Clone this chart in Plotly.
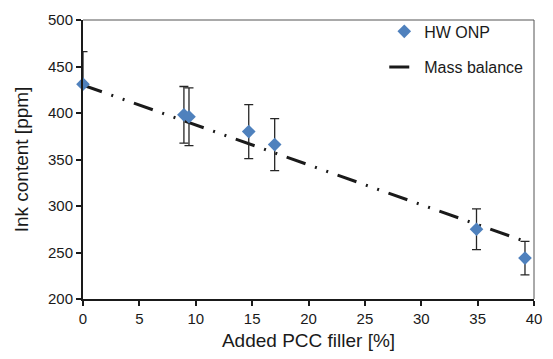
import plotly.graph_objects as go

# Measured data (HW ONP)
filler_pct = [0.0, 8.95, 9.4, 14.7, 17.0, 34.9, 39.2]
ink_ppm = [431, 398, 396, 380, 366, 275, 244]
ink_err_plus = [35, 30.5, 31, 29, 28, 22, 18]
ink_err_minus = [0, 30.5, 31, 29, 28, 22, 18]

# Mass balance line
mb_x = [0.0, 39.2]
mb_y = [430, 262]

x_ticks = [0, 5, 10, 15, 20, 25, 30, 35, 40]
y_ticks = [200, 250, 300, 350, 400, 450, 500]

font = "Liberation Sans, Arial, sans-serif"

fig = go.Figure()
fig.add_trace(go.Scatter(
    x=mb_x, y=mb_y, mode="lines", name="Mass balance",
    legendgroup="b", legendrank=2,
    line=dict(color="#1a1a1a", width=3, dash="20px,10px,2px,10px,2px,10px"),
    cliponaxis=False,
))
fig.add_trace(go.Scatter(
    x=filler_pct, y=ink_ppm, mode="markers", name="HW ONP",
    legendgroup="a", legendrank=1,
    marker=dict(symbol="diamond", size=10.5, color="#4F81BD"),
    error_y=dict(type="data", array=ink_err_plus, arrayminus=ink_err_minus,
                 symmetric=False, visible=True,
                 color="#262626", thickness=1.3, width=4.5),
    cliponaxis=False,
))

fig.update_layout(
    width=553, height=359,
    margin=dict(l=83, r=11, t=12, b=60),
    plot_bgcolor="white", paper_bgcolor="white",
    font=dict(family=font, size=15, color="#1a1a1a"),
    showlegend=True,
    legend=dict(x=0.668, y=1.02, xanchor="left", yanchor="top",
                bgcolor="rgba(0,0,0,0)", font=dict(size=16),
                tracegroupgap=12),
    xaxis=dict(range=[0, 40], tickvals=x_ticks, showgrid=False, zeroline=False,
               showline=True, linecolor="#1a1a1a", linewidth=2,
               ticks="outside", ticklen=5, tickcolor="#1a1a1a", tickwidth=1.5,
               title=dict(text="Added PCC filler [%]", font=dict(size=19), standoff=8),
               tickfont=dict(size=15)),
    yaxis=dict(range=[200, 500], tickvals=y_ticks, showgrid=False, zeroline=False,
               showline=True, linecolor="#1a1a1a", linewidth=2,
               ticks="outside", ticklen=5, tickcolor="#1a1a1a", tickwidth=1.5,
               title=dict(text="Ink content [ppm]", font=dict(size=19), standoff=14),
               tickfont=dict(size=15)),
    shapes=[
        dict(type="line", xref="paper", yref="paper", x0=0, x1=1, y0=1, y1=1,
             line=dict(color="#555555", width=1)),
        dict(type="line", xref="paper", yref="paper", x0=1, x1=1, y0=0, y1=1,
             line=dict(color="#555555", width=1)),
    ],
)

fig.write_html("out.html")
